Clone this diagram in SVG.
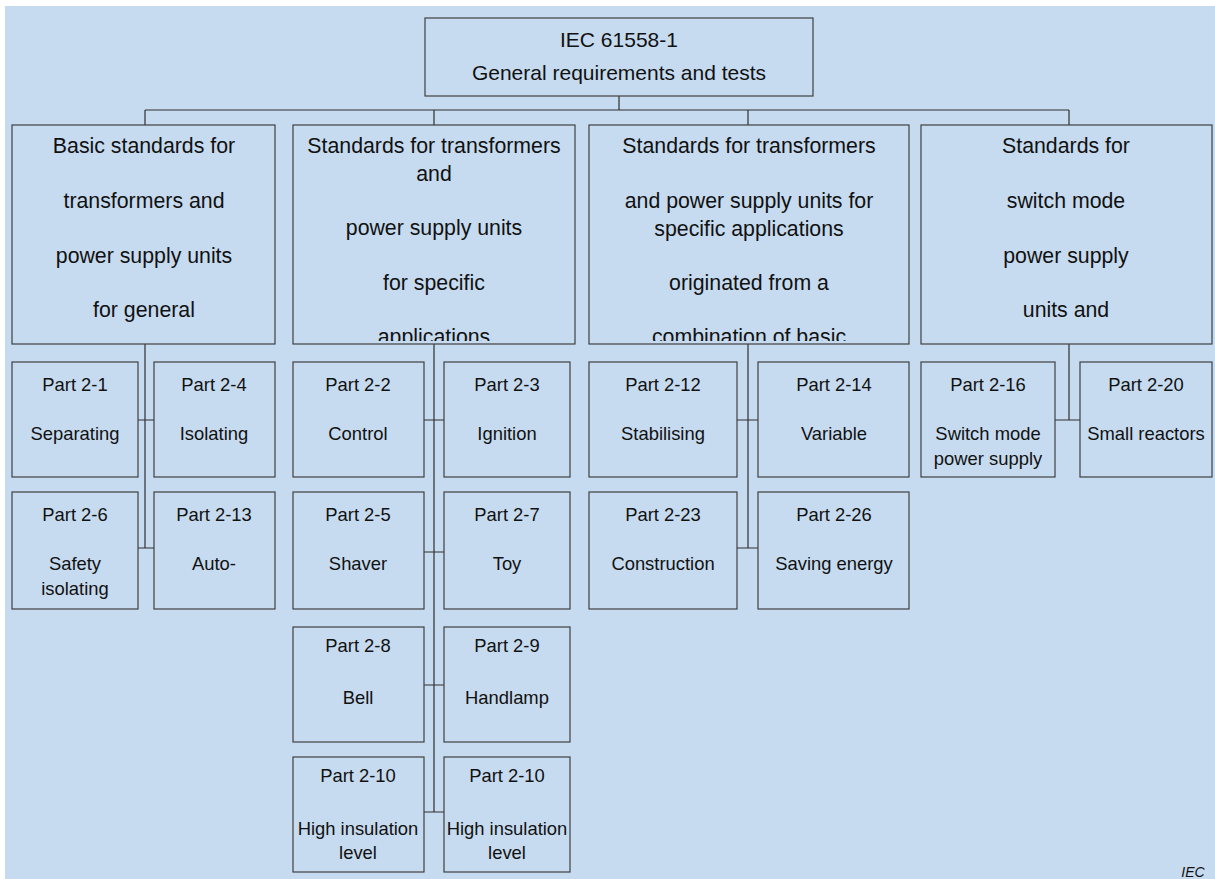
<svg xmlns="http://www.w3.org/2000/svg" width="1215" height="879" viewBox="0 0 1215 879">
<style>
.box{fill:#C6DBEF;stroke:#404040;stroke-width:1.2}
.t{font-family:"Liberation Sans",Arial,sans-serif;fill:#111;text-anchor:middle}
.top{font-size:21px}
.l2{font-size:21.3px}
.p{font-size:18.4px}
.c{stroke:#303030;stroke-width:1.2;fill:none}
</style>
<defs>
<clipPath id="cA"><rect x="12" y="125" width="263" height="216"/></clipPath>
<clipPath id="cB"><rect x="293" y="125" width="282" height="216"/></clipPath>
<clipPath id="cC"><rect x="589" y="125" width="320" height="216"/></clipPath>
<clipPath id="cD"><rect x="921" y="125" width="291" height="216"/></clipPath>
</defs>
<rect x="0" y="0" width="1215" height="879" fill="#ffffff"/>
<rect x="5" y="6" width="1210" height="873" fill="#C6DBEF"/>
<g id="connectors">
<path class="c" d="M619 96V110M145 110H1069M145 110V125M434 110V125M748 110V125M1069 110V125"/>
<path class="c" d="M145 344V548M138 420H154M138 548H154"/>
<path class="c" d="M434 344V812M424 420H444M424 552H444M424 685H444M424 812H444"/>
<path class="c" d="M748 344V548M737 420H758M737 548H758"/>
<path class="c" d="M1069 344V420M1055 420H1080"/>
</g>
<g id="root"><rect class="box" x="425" y="18" width="388" height="78"/>
<text class="t top" x="619" y="47">IEC 61558-1</text>
<text class="t top" x="619" y="80">General requirements and tests</text></g>
<g id="basic"><rect class="box" x="12" y="125" width="263" height="219"/>
<g clip-path="url(#cA)" class="t l2"><text x="144" y="153">Basic standards for</text><text x="144" y="208">transformers and</text><text x="144" y="263">power supply units</text><text x="144" y="317">for general</text></g></g>
<g id="specific"><rect class="box" x="293" y="125" width="282" height="219"/>
<g clip-path="url(#cB)" class="t l2"><text x="434" y="153">Standards for transformers</text><text x="434" y="181">and</text><text x="434" y="235">power supply units</text><text x="434" y="290">for specific</text><text x="434" y="344">applications</text></g></g>
<g id="combination"><rect class="box" x="589" y="125" width="320" height="219"/>
<g clip-path="url(#cC)" class="t l2"><text x="749" y="153">Standards for transformers</text><text x="749" y="208">and power supply units for</text><text x="749" y="236">specific applications</text><text x="749" y="290">originated from a</text><text x="749" y="344">combination of basic</text></g></g>
<g id="smps"><rect class="box" x="921" y="125" width="291" height="219"/>
<g clip-path="url(#cD)" class="t l2"><text x="1066" y="153">Standards for</text><text x="1066" y="208">switch mode</text><text x="1066" y="263">power supply</text><text x="1066" y="317">units and</text></g></g>
<g id="p2-1"><rect class="box" x="12" y="362" width="126" height="115"/><text class="t p" x="75" y="391">Part 2-1</text><text class="t p" x="75" y="440">Separating</text></g>
<g id="p2-4"><rect class="box" x="154" y="362" width="121" height="115"/><text class="t p" x="214" y="391">Part 2-4</text><text class="t p" x="214" y="440">Isolating</text></g>
<g id="p2-6"><rect class="box" x="12" y="492" width="126" height="117"/><text class="t p" x="75" y="521">Part 2-6</text><text class="t p" x="75" y="570">Safety</text><text class="t p" x="75" y="595">isolating</text></g>
<g id="p2-13"><rect class="box" x="154" y="492" width="121" height="117"/><text class="t p" x="214" y="521">Part 2-13</text><text class="t p" x="214" y="570">Auto-</text></g>
<g id="p2-2"><rect class="box" x="293" y="362" width="131" height="115"/><text class="t p" x="358" y="391">Part 2-2</text><text class="t p" x="358" y="440">Control</text></g>
<g id="p2-3"><rect class="box" x="444" y="362" width="126" height="115"/><text class="t p" x="507" y="391">Part 2-3</text><text class="t p" x="507" y="440">Ignition</text></g>
<g id="p2-5"><rect class="box" x="293" y="492" width="131" height="117"/><text class="t p" x="358" y="521">Part 2-5</text><text class="t p" x="358" y="570">Shaver</text></g>
<g id="p2-7"><rect class="box" x="444" y="492" width="126" height="117"/><text class="t p" x="507" y="521">Part 2-7</text><text class="t p" x="507" y="570">Toy</text></g>
<g id="p2-8"><rect class="box" x="293" y="627" width="131" height="115"/><text class="t p" x="358" y="652">Part 2-8</text><text class="t p" x="358" y="704">Bell</text></g>
<g id="p2-9"><rect class="box" x="444" y="627" width="126" height="115"/><text class="t p" x="507" y="652">Part 2-9</text><text class="t p" x="507" y="704">Handlamp</text></g>
<g id="p2-10a"><rect class="box" x="293" y="757" width="131" height="115"/><text class="t p" x="358" y="782">Part 2-10</text><text class="t p" x="358" y="835">High insulation</text><text class="t p" x="358" y="859">level</text></g>
<g id="p2-10b"><rect class="box" x="444" y="757" width="126" height="115"/><text class="t p" x="507" y="782">Part 2-10</text><text class="t p" x="507" y="835">High insulation</text><text class="t p" x="507" y="859">level</text></g>
<g id="p2-12"><rect class="box" x="589" y="362" width="148" height="115"/><text class="t p" x="663" y="391">Part 2-12</text><text class="t p" x="663" y="440">Stabilising</text></g>
<g id="p2-14"><rect class="box" x="758" y="362" width="151" height="115"/><text class="t p" x="834" y="391">Part 2-14</text><text class="t p" x="834" y="440">Variable</text></g>
<g id="p2-23"><rect class="box" x="589" y="492" width="148" height="117"/><text class="t p" x="663" y="521">Part 2-23</text><text class="t p" x="663" y="570">Construction</text></g>
<g id="p2-26"><rect class="box" x="758" y="492" width="151" height="117"/><text class="t p" x="834" y="521">Part 2-26</text><text class="t p" x="834" y="570">Saving energy</text></g>
<g id="p2-16"><rect class="box" x="921" y="362" width="134" height="115"/><text class="t p" x="988" y="391">Part 2-16</text><text class="t p" x="988" y="440">Switch mode</text><text class="t p" x="988" y="465">power supply</text></g>
<g id="p2-20"><rect class="box" x="1080" y="362" width="132" height="115"/><text class="t p" x="1146" y="391">Part 2-20</text><text class="t p" x="1146" y="440">Small reactors</text></g>
<text class="t" x="1193" y="877" style="font-size:14px;font-style:italic">IEC</text>
</svg>
